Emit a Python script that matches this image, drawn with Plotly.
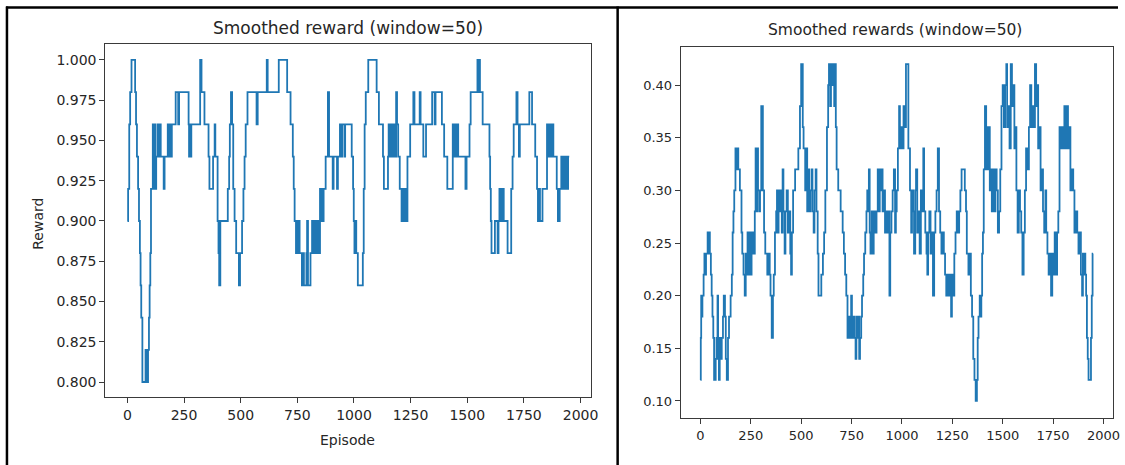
import plotly.graph_objects as go

# ---- data (change points of the step-like smoothed curves) ----
left_episodes = [0,3,8,12,18,34,38,42,47,51,55,58,61,66,80,83,86,88,91,95,98,101,104,112,115,118,121,123,127,133,138,141,147,160,164,178,181,186,189,196,213,224,228,270,272,276,278,282,321,327,340,358,362,378,385,388,398,402,405,410,443,449,452,457,462,467,473,480,492,497,506,512,517,522,530,570,575,615,619,668,705,720,730,734,738,744,748,752,756,760,770,776,779,790,793,797,808,815,819,824,827,832,835,840,845,850,858,866,875,885,890,906,910,925,929,938,945,948,958,961,990,996,999,1002,1005,1010,1017,1039,1043,1047,1052,1063,1100,1110,1128,1132,1150,1153,1158,1163,1168,1175,1180,1186,1190,1195,1202,1210,1216,1219,1224,1228,1236,1248,1262,1267,1290,1294,1306,1318,1345,1356,1360,1388,1398,1412,1436,1440,1444,1448,1455,1460,1492,1497,1510,1515,1545,1549,1552,1556,1568,1598,1601,1604,1607,1622,1634,1638,1642,1645,1650,1653,1657,1661,1678,1694,1700,1705,1717,1722,1728,1732,1774,1786,1800,1808,1812,1818,1821,1832,1852,1856,1860,1863,1867,1870,1875,1880,1895,1900,1908,1915,1918,1921,1924,1927,1930,1933,1936,1939,1942,1945,1950]
left_rewards = [0.90,0.92,0.96,0.98,1.00,0.98,0.96,0.94,0.92,0.90,0.88,0.86,0.84,0.80,0.82,0.80,0.82,0.80,0.82,0.84,0.86,0.88,0.92,0.96,0.92,0.94,0.96,0.92,0.94,0.96,0.94,0.96,0.94,0.92,0.94,0.96,0.94,0.96,0.94,0.96,0.98,0.96,0.98,0.96,0.94,0.96,0.94,0.96,1.00,0.98,0.96,0.94,0.92,0.94,0.96,0.94,0.90,0.88,0.86,0.90,0.92,0.94,0.96,0.98,0.96,0.92,0.90,0.88,0.86,0.88,0.90,0.92,0.94,0.96,0.98,0.96,0.98,1.00,0.98,1.00,0.98,0.96,0.94,0.92,0.90,0.88,0.90,0.88,0.90,0.88,0.86,0.88,0.86,0.88,0.90,0.86,0.88,0.90,0.88,0.90,0.88,0.90,0.88,0.90,0.88,0.92,0.90,0.92,0.94,0.98,0.94,0.92,0.94,0.92,0.94,0.96,0.94,0.96,0.94,0.96,0.94,0.92,0.90,0.88,0.90,0.88,0.86,0.88,0.92,0.96,0.98,1.00,0.98,0.96,0.94,0.92,0.94,0.96,0.94,0.96,0.94,0.96,0.94,0.98,0.96,0.94,0.92,0.90,0.92,0.90,0.92,0.90,0.94,0.96,0.98,0.96,0.98,0.96,0.94,0.96,0.98,0.96,0.98,0.96,0.94,0.92,0.96,0.94,0.96,0.94,0.96,0.94,0.92,0.94,0.96,0.98,1.00,0.98,1.00,0.98,0.96,0.94,0.92,0.90,0.88,0.90,0.88,0.90,0.92,0.90,0.92,0.90,0.92,0.90,0.88,0.92,0.94,0.96,0.98,0.96,0.94,0.96,0.98,0.96,0.94,0.92,0.90,0.92,0.90,0.92,0.96,0.94,0.96,0.94,0.96,0.94,0.96,0.94,0.92,0.90,0.92,0.94,0.92,0.94,0.92,0.94,0.92,0.94,0.92,0.94,0.92,0.94,0.94]

right_episodes = [0,2,4,7,10,16,20,26,28,36,40,43,47,52,56,60,64,68,76,80,85,88,92,96,102,106,112,116,122,126,131,137,142,150,156,160,164,168,174,180,184,188,196,204,208,214,220,225,230,234,238,242,246,250,254,258,262,266,270,274,278,282,286,292,296,302,310,316,322,332,340,344,348,354,360,364,370,376,380,384,388,392,398,404,408,412,418,422,428,434,440,446,450,454,460,470,486,494,500,508,512,520,526,530,536,540,546,552,556,562,566,572,576,582,586,600,608,614,620,628,634,638,644,648,654,658,664,668,672,676,684,696,706,712,718,724,730,736,742,748,752,758,764,770,774,778,784,788,792,798,802,808,812,818,824,828,832,836,840,844,850,856,860,868,874,880,886,890,896,900,904,910,916,922,928,932,938,942,948,954,960,966,970,974,980,986,990,996,1002,1008,1016,1020,1032,1040,1046,1050,1056,1060,1066,1070,1076,1082,1088,1094,1100,1106,1110,1116,1122,1126,1130,1136,1142,1148,1154,1160,1166,1172,1178,1184,1190,1196,1202,1208,1214,1220,1226,1232,1238,1244,1248,1254,1260,1266,1272,1278,1284,1290,1296,1312,1318,1322,1330,1336,1342,1348,1354,1360,1366,1372,1376,1380,1386,1390,1394,1398,1402,1406,1412,1418,1422,1428,1432,1436,1440,1446,1452,1458,1464,1470,1476,1482,1488,1494,1500,1506,1512,1518,1522,1528,1534,1540,1546,1552,1558,1564,1568,1574,1580,1586,1592,1598,1604,1610,1616,1624,1630,1636,1642,1648,1654,1660,1666,1672,1676,1682,1688,1694,1700,1706,1712,1716,1722,1728,1734,1740,1746,1752,1758,1764,1770,1776,1782,1788,1794,1800,1806,1812,1818,1824,1830,1836,1842,1850,1856,1864,1870,1876,1882,1888,1894,1898,1902,1906,1910,1914,1918,1922,1926,1938,1942,1946,1948]
right_rewards = [0.12,0.16,0.20,0.18,0.20,0.22,0.24,0.22,0.24,0.26,0.24,0.26,0.24,0.22,0.20,0.18,0.16,0.12,0.14,0.16,0.20,0.14,0.12,0.16,0.14,0.16,0.18,0.20,0.18,0.14,0.12,0.16,0.18,0.20,0.22,0.26,0.28,0.30,0.34,0.32,0.34,0.32,0.30,0.26,0.24,0.22,0.20,0.24,0.22,0.26,0.22,0.26,0.24,0.22,0.26,0.24,0.26,0.24,0.28,0.34,0.28,0.34,0.30,0.28,0.30,0.38,0.30,0.26,0.24,0.22,0.24,0.22,0.20,0.16,0.20,0.22,0.26,0.28,0.30,0.26,0.30,0.28,0.30,0.26,0.32,0.28,0.24,0.28,0.30,0.26,0.28,0.24,0.22,0.26,0.30,0.32,0.34,0.38,0.42,0.36,0.34,0.30,0.34,0.28,0.32,0.28,0.30,0.32,0.28,0.26,0.30,0.32,0.28,0.24,0.20,0.22,0.24,0.26,0.30,0.36,0.40,0.42,0.38,0.42,0.40,0.42,0.38,0.42,0.36,0.32,0.30,0.28,0.26,0.24,0.22,0.20,0.16,0.18,0.16,0.20,0.16,0.18,0.16,0.14,0.18,0.16,0.18,0.14,0.16,0.18,0.20,0.22,0.24,0.26,0.28,0.30,0.28,0.32,0.26,0.24,0.28,0.24,0.28,0.26,0.28,0.32,0.28,0.32,0.30,0.32,0.28,0.30,0.26,0.28,0.26,0.28,0.20,0.26,0.28,0.30,0.32,0.26,0.28,0.30,0.34,0.38,0.34,0.36,0.34,0.38,0.36,0.42,0.34,0.30,0.26,0.30,0.28,0.24,0.30,0.32,0.26,0.28,0.24,0.30,0.28,0.34,0.28,0.26,0.24,0.22,0.26,0.28,0.24,0.26,0.20,0.26,0.28,0.30,0.34,0.28,0.26,0.24,0.26,0.24,0.22,0.20,0.22,0.20,0.22,0.18,0.22,0.20,0.24,0.26,0.28,0.26,0.28,0.30,0.32,0.30,0.28,0.24,0.22,0.24,0.20,0.18,0.14,0.12,0.10,0.12,0.16,0.18,0.20,0.18,0.20,0.24,0.26,0.32,0.38,0.32,0.36,0.32,0.36,0.30,0.32,0.28,0.32,0.28,0.32,0.30,0.26,0.28,0.32,0.38,0.40,0.36,0.40,0.42,0.36,0.38,0.34,0.42,0.38,0.40,0.34,0.36,0.30,0.26,0.30,0.28,0.26,0.22,0.26,0.30,0.34,0.32,0.36,0.40,0.36,0.38,0.36,0.42,0.38,0.40,0.34,0.36,0.30,0.32,0.28,0.26,0.30,0.26,0.24,0.22,0.24,0.20,0.24,0.22,0.26,0.22,0.26,0.28,0.36,0.34,0.36,0.34,0.38,0.34,0.38,0.34,0.36,0.30,0.32,0.30,0.26,0.28,0.26,0.24,0.26,0.22,0.20,0.24,0.22,0.24,0.22,0.20,0.16,0.14,0.12,0.16,0.20,0.24,0.24]

x_ticks = [0, 250, 500, 750, 1000, 1250, 1500, 1750, 2000]
left_y_ticks = [0.800, 0.825, 0.850, 0.875, 0.900, 0.925, 0.950, 0.975, 1.000]
right_y_ticks = [0.10, 0.15, 0.20, 0.25, 0.30, 0.35, 0.40]

left_title = "Smoothed reward (window=50)"
right_title = "Smoothed rewards (window=50)"
left_xlabel = "Episode"
left_ylabel = "Reward"

# ---- figure ----
W, H = 1125, 465
FONT = "DejaVu Sans"
BLUE = "#1f77b4"
TXT = "#262626"

def px_x(p):
    return p / W

def px_y(p):
    return 1 - p / H

fig = go.Figure()
fig.add_trace(go.Scatter(x=left_episodes, y=left_rewards, mode="lines",
                         line=dict(color=BLUE, width=1.8, shape="hv"),
                         xaxis="x", yaxis="y", showlegend=False))
fig.add_trace(go.Scatter(x=right_episodes, y=right_rewards, mode="lines",
                         line=dict(color=BLUE, width=1.8, shape="hv"),
                         xaxis="x2", yaxis="y2", showlegend=False))

common = dict(showline=True, linecolor="#3a3a3a", linewidth=1, mirror=True,
              ticks="outside", ticklen=5, tickwidth=1, tickcolor="#3a3a3a",
              showgrid=False, zeroline=False)

# width left to the page (fills the window); height fixed
fig.update_layout(
    height=H, autosize=True,
    margin=dict(l=0, r=0, t=0, b=0, pad=0),
    paper_bgcolor="white", plot_bgcolor="white",
    font=dict(family=FONT, color=TXT),
    xaxis=dict(domain=[px_x(106), px_x(595)], range=[-97.5, 2047.5],
               tickvals=x_ticks, tickfont=dict(size=14, family=FONT, color=TXT),
               anchor="y", **common),
    yaxis=dict(domain=[px_y(397), px_y(44)], range=[0.7907, 1.0099],
               tickvals=left_y_ticks, tickformat=".3f",
               tickfont=dict(size=14, family=FONT, color=TXT),
               anchor="x", **common),
    xaxis2=dict(domain=[px_x(685), px_x(1120)], range=[-97.5, 2047.5],
                tickvals=x_ticks, tickfont=dict(size=13, family=FONT, color=TXT),
                anchor="y2", **common),
    yaxis2=dict(domain=[px_y(418), px_y(47)], range=[0.0838, 0.4362],
                tickvals=right_y_ticks, tickformat=".2f",
                tickfont=dict(size=13, family=FONT, color=TXT),
                anchor="x2", **common),
)

annotations = [
    dict(text=left_title, x=px_x(350), y=px_y(28), font=dict(size=17, family=FONT, color=TXT)),
    dict(text=right_title, x=px_x(901), y=px_y(30), font=dict(size=15.5, family=FONT, color=TXT)),
    dict(text=left_xlabel, x=px_x(350), y=px_y(440), font=dict(size=14, family=FONT, color=TXT)),
    dict(text=left_ylabel, x=px_x(38), y=px_y(224), textangle=-90, font=dict(size=14, family=FONT, color=TXT)),
]
for a in annotations:
    a.update(xref="paper", yref="paper", showarrow=False, xanchor="center", yanchor="middle")
fig.update_layout(annotations=annotations)

# outer frame and divider of the composite image
shapes = [
    dict(type="line", xref="paper", yref="paper", x0=px_x(7), x1=px_x(7), y0=0, y1=px_y(6.5)),
    dict(type="line", xref="paper", yref="paper", x0=px_x(6), x1=1, y0=px_y(7.5), y1=px_y(7.5)),
    dict(type="line", xref="paper", yref="paper", x0=px_x(621.5), x1=px_x(621.5), y0=0, y1=px_y(6.5)),
]
for s in shapes:
    s["line"] = dict(color="black", width=2.5)
fig.update_layout(shapes=shapes)

post = ("document.documentElement.style.margin='0';"
        "document.body.style.margin='0';"
        "document.body.style.overflow='hidden';"
        "document.documentElement.style.overflow='hidden';"
        "Plotly.Plots.resize(document.getElementById('{plot_id}'));")

fig.write_html("out.html",
               config={"displayModeBar": False, "responsive": True},
               default_width="100%", default_height="465px",
               post_script=post)
